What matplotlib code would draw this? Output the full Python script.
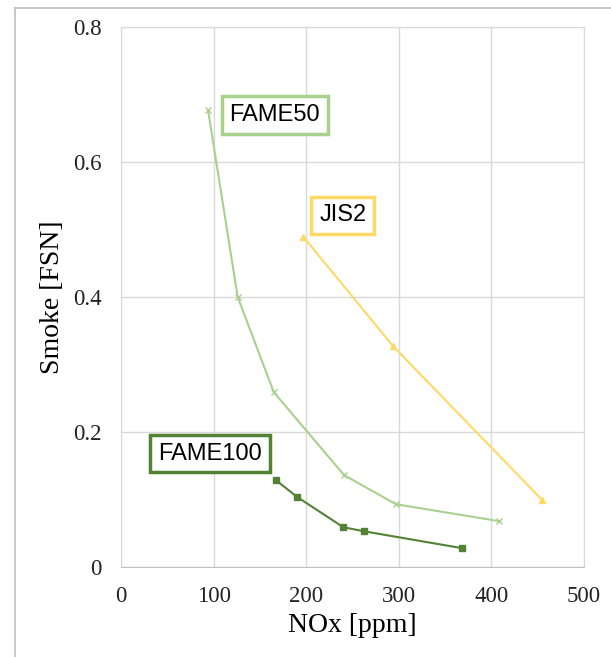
import matplotlib.pyplot as plt
from matplotlib.lines import Line2D

# data
fame50_x = [94, 126, 165, 241, 297, 408]
fame50_y = [0.677, 0.400, 0.259, 0.136, 0.093, 0.068]

fame100_x = [167, 190, 240, 262, 368]
fame100_y = [0.129, 0.104, 0.059, 0.053, 0.028]

jis2_x = [197, 294, 455]
jis2_y = [0.489, 0.327, 0.099]

xticks = [0, 100, 200, 300, 400, 500]
yticks = [0, 0.2, 0.4, 0.6, 0.8]
ytick_labels = ['0', '0.2', '0.4', '0.6', '0.8']

c50 = '#a9d18e'
c100 = '#548235'
cjis = '#ffd966'

W, H = 611, 657
fig = plt.figure(figsize=(W / 100, H / 100), dpi=100)
ax = fig.add_axes([121 / W, 1 - 567 / H, (584 - 121) / W, (567 - 27) / H])

ax.plot(fame50_x, fame50_y, color=c50, lw=1.5, marker='x', ms=4, mew=1)
ax.plot(fame100_x, fame100_y, color=c100, lw=1.5, marker='s', ms=4)
ax.plot(jis2_x, jis2_y, color=cjis, lw=1.5, marker='^', ms=4)

ax.set_xlim(0, 500)
ax.set_ylim(0, 0.8)
ax.set_xticks(xticks)
ax.set_yticks(yticks)
ax.set_yticklabels(ytick_labels)
ax.grid(True, color='#d9d9d9', lw=1)
ax.set_axisbelow(True)
for s in ax.spines.values():
    s.set_color('#d9d9d9')
ax.spines['bottom'].set_color('#bfbfbf')
ax.tick_params(length=0, labelsize=16.5, colors='#222222')
ax.tick_params(axis='y', pad=14)
ax.tick_params(axis='x', pad=14)
for lab in ax.get_xticklabels() + ax.get_yticklabels():
    lab.set_family('Liberation Serif')

ax.set_xlabel('NOx [ppm]', family='Liberation Serif', fontsize=20, labelpad=4)
ax.set_ylabel('Smoke [FSN]', family='Liberation Serif', fontsize=20, labelpad=6)

def tag(x, y, text, col):
    ax.text(x, y, text, fontsize=17, family='Liberation Sans', ha='left', va='center',
            bbox=dict(boxstyle='square,pad=0.33', fc='white', ec=col, lw=2.5))

tag(117, 0.670, 'FAME50', c50)
tag(214, 0.521, 'JIS2', cjis)
tag(40, 0.168, 'FAME100', c100)

# outer chart frame
fig.add_artist(Line2D([15 / W, 1], [1 - 8 / H, 1 - 8 / H], color='#bfbfbf', lw=1.2))
fig.add_artist(Line2D([15 / W, 15 / W], [0, 1 - 8 / H], color='#bfbfbf', lw=1.2))

fig.savefig('out.png', dpi=100)
